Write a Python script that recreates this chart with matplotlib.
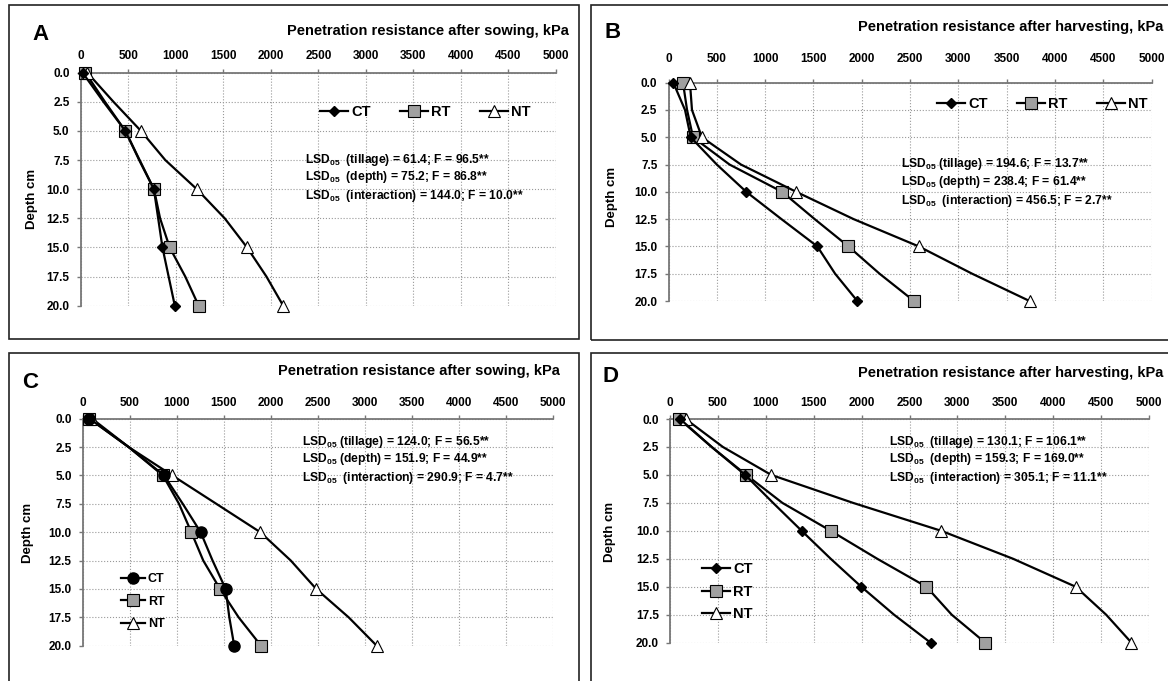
import matplotlib
matplotlib.use("Agg")
import matplotlib.pyplot as plt
from matplotlib.patches import Rectangle

plt.rcParams['font.family'] = ['Liberation Sans', 'DejaVu Sans']
plt.rcParams['font.weight'] = 'bold'
plt.rcParams['mathtext.default'] = 'regular'

# depth (cm), readings every 2.5 cm; markers only every 5 cm
depth = [0, 2.5, 5, 7.5, 10, 12.5, 15, 17.5, 20]

# A - after sowing (first season)
a_ct = [20, 240, 470, 615, 770, 815, 860, 925, 990]
a_rt = [50, 255, 470, 620, 771, 835, 936, 1100, 1241]
a_nt = [70, 345, 634, 890, 1222, 1515, 1750, 1954, 2130]

# B - after harvesting (first season)
b_ct = [50, 171, 230, 500, 805, 1169, 1540, 1724, 1954]
b_rt = [150, 192, 254, 632, 1176, 1513, 1862, 2184, 2540]
b_nt = [222, 243, 346, 750, 1322, 1916, 2590, 3142, 3736]

# C - after sowing (second season)
c_ct = [71, 488, 864, 1063, 1253, 1380, 1519, 1558, 1610]
c_rt = [71, 488, 852, 1023, 1154, 1281, 1459, 1657, 1895]
c_nt = [99, 488, 952, 1420, 1887, 2212, 2482, 2827, 3125]

# D - after harvesting (second season)
d_ct = [105, 435, 785, 1076, 1375, 1678, 1997, 2339, 2720]
d_rt = [97, 435, 796, 1173, 1678, 2164, 2677, 2941, 3291]
d_nt = [163, 552, 1057, 1911, 2832, 3582, 4235, 4553, 4817]

xticks = list(range(0, 5001, 500))
yticks = [0, 2.5, 5, 7.5, 10, 12.5, 15, 17.5, 20]

W, H = 1168, 681
fig = plt.figure(figsize=(W / 100, H / 100), dpi=100)


def fx(x):
    return x / W


def fy(y):
    return 1 - y / H


def make_axes(x0, x1, y0, y1, xpad=5):
    ax = fig.add_axes([fx(x0), fy(y1), (x1 - x0) / W, (y1 - y0) / H])
    ax.set_xlim(0, 5000)
    ax.set_ylim(20, 0)
    ax.set_xticks(xticks)
    ax.set_yticks(yticks)
    ax.set_yticklabels(['%.1f' % t for t in yticks])
    ax.xaxis.tick_top()
    ax.tick_params(axis='both', labelsize=8.5, length=3, width=1, color='#777777', pad=5)
    ax.tick_params(axis='x', pad=xpad)
    for lab in ax.get_xticklabels() + ax.get_yticklabels():
        lab.set_fontweight('bold')
    for s in ['right', 'bottom']:
        ax.spines[s].set_visible(False)
    for s in ['top', 'left']:
        ax.spines[s].set_color('#777777')
        ax.spines[s].set_linewidth(1.3)
    ax.grid(True, linestyle=':', color='#999999', linewidth=0.8)
    ax.set_axisbelow(True)
    ax.patch.set_alpha(0)
    return ax


def draw(ax, ct, rt, nt, ct_marker='D', ct_size=5.5):
    ax.plot(ct, depth, color='black', lw=1.6, marker=ct_marker, ms=ct_size,
            mfc='black', mec='black', markevery=2, clip_on=False, label='CT', zorder=4)
    ax.plot(rt, depth, color='black', lw=1.6, marker='s', ms=9,
            mfc='#a0a0a0', mec='black', mew=0.8, markevery=2, clip_on=False, label='RT', zorder=3)
    ax.plot(nt, depth, color='black', lw=1.6, marker='^', ms=8,
            mfc='white', mec='black', mew=0.8, markevery=2, clip_on=False, label='NT', zorder=3)


def panel_text(letter, lx, ly, title, tx, ty, dlx, dly):
    fig.text(fx(lx), fy(ly), letter, fontsize=16, fontweight='bold', ha='left', va='center')
    fig.text(fx(tx), fy(ty), title, fontsize=10.5, fontweight='bold', ha='right', va='center')
    fig.text(fx(dlx), fy(dly), 'Depth cm', fontsize=9.5, fontweight='bold', rotation=90,
             ha='center', va='center')


def lsd(lines, x, ys):
    for t, y in zip(lines, ys):
        fig.text(fx(x), fy(y), t, fontsize=8.7, fontweight='bold', ha='left', va='center')


# panel frames
for (x0, y0, x1, y1) in [(9, 5, 579, 339), (591, 5, 1172, 340),
                         (9, 353, 579, 690), (591, 353, 1172, 690)]:
    fig.patches.append(Rectangle((fx(x0), fy(y1)), (x1 - x0) / W, (y1 - y0) / H,
                                 transform=fig.transFigure, fill=False,
                                 edgecolor='#222222', lw=1.2))

# A
axA = make_axes(80.7, 556, 72.7, 305.7)
draw(axA, a_ct, a_rt, a_nt)
panel_text('A', 32, 35, 'Penetration resistance after sowing, kPa', 569, 31, 32, 199)
axA.legend(loc='center left', bbox_to_anchor=(fx(320), fy(111.7)), bbox_transform=fig.transFigure,
           ncol=3, frameon=False, handlelength=1.9, handletextpad=0.25,
           columnspacing=2.0, borderpad=0, borderaxespad=0,
           prop={'weight': 'bold', 'size': 10.5})
lsd(['LSD$_{05}$  (tillage) = 61.4; F = 96.5**',
     'LSD$_{05}$  (depth) = 75.2; F = 86.8**',
     'LSD$_{05}$  (interaction) = 144.0; F = 10.0**'], 305, [160, 177, 196])

# B
axB = make_axes(668.5, 1151.7, 82.7, 301, xpad=10)
draw(axB, b_ct, b_rt, b_nt)
panel_text('B', 604, 33, 'Penetration resistance after harvesting, kPa', 1163, 27, 612, 197)
axB.legend(loc='center left', bbox_to_anchor=(fx(937), fy(104)), bbox_transform=fig.transFigure,
           ncol=3, frameon=False, handlelength=1.9, handletextpad=0.25,
           columnspacing=2.0, borderpad=0, borderaxespad=0,
           prop={'weight': 'bold', 'size': 10.5})
lsd(['LSD$_{05}$ (tillage) = 194.6; F = 13.7**',
     'LSD$_{05}$ (depth) = 238.4; F = 61.4**',
     'LSD$_{05}$  (interaction) = 456.5; F = 2.7**'], 901, [164, 182, 201])

# C
axC = make_axes(82.8, 553, 418.7, 645.7, xpad=4)
draw(axC, c_ct, c_rt, c_nt, ct_marker='o', ct_size=8)
panel_text('C', 22, 383, 'Penetration resistance after sowing, kPa', 560, 371, 28, 533)
axC.legend(loc='upper left', bbox_to_anchor=(fx(121), fy(573)), bbox_transform=fig.transFigure,
           ncol=1, frameon=False, handlelength=1.9, handletextpad=0.25, labelspacing=0.85,
           borderpad=0, borderaxespad=0, prop={'weight': 'bold', 'size': 9})
lsd(['LSD$_{05}$ (tillage) = 124.0; F = 56.5**',
     'LSD$_{05}$ (depth) = 151.9; F = 44.9**',
     'LSD$_{05}$  (interaction) = 290.9; F = 4.7**'], 302, [442, 459, 478])

# D
axD = make_axes(670, 1149, 419, 642.7, xpad=4)
draw(axD, d_ct, d_rt, d_nt)
panel_text('D', 602, 377, 'Penetration resistance after harvesting, kPa', 1163, 373, 610, 532)
axD.legend(loc='upper left', bbox_to_anchor=(fx(702), fy(562)), bbox_transform=fig.transFigure,
           ncol=1, frameon=False, handlelength=1.9, handletextpad=0.25, labelspacing=0.6,
           borderpad=0, borderaxespad=0, prop={'weight': 'bold', 'size': 10.5})
lsd(['LSD$_{05}$  (tillage) = 130.1; F = 106.1**',
     'LSD$_{05}$  (depth) = 159.3; F = 169.0**',
     'LSD$_{05}$  (interaction) = 305.1; F = 11.1**'], 889, [442, 459, 478])

fig.savefig('out.png', dpi=100)
